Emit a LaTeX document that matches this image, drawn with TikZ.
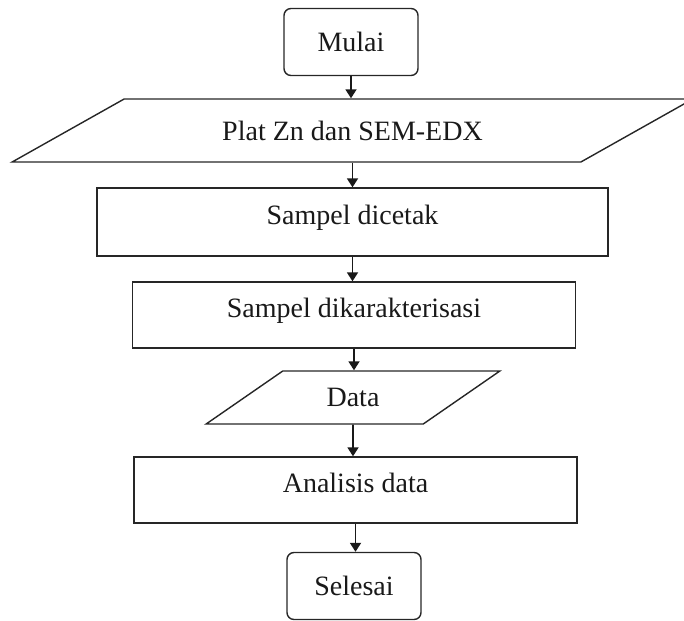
\documentclass[tikz,border=0pt]{standalone}
\usepackage{fontspec}
\setmainfont{Liberation Serif}
\usepackage{tikz}
\usetikzlibrary{arrows.meta}
\usetikzlibrary{shapes.geometric,positioning}

\begin{document}
\begin{tikzpicture}[x=0.5pt,y=-0.5pt,
	base/.style={draw=black!85,line width=0.7pt,text=black!90,font=\fontsize{14pt}{17pt}\selectfont},
	term/.style={base,rectangle,rounded corners=3.5pt,minimum width=67pt,minimum height=33.5pt},
	proc/.style={base,rectangle,minimum width=221.5pt,minimum height=33pt,text height=10pt,text depth=8pt},
	io/.style={base,trapezium,trapezium stretches=true},
	flow/.style={draw=black!90,line width=0.9pt,-{Triangle[length=4.5pt,width=5.5pt]}}]
	\useasboundingbox (0,0) rectangle (684,620);
	\node[term] (mulai) at (351,42) {Mulai};
	\node[io,trapezium left angle=26.2,trapezium right angle=153.8,minimum width=340.5pt,minimum height=31.5pt] (plat) at (352.5,130.5) {Plat Zn dan SEM-EDX};
	\node[proc,minimum width=255.5pt,minimum height=34pt] (cetak) at (352.5,222) {Sampel dicetak};
	\node[proc] (karakter) at (354,315) {Sampel dikarakterisasi};
	\node[io,trapezium left angle=41.5,trapezium right angle=138.5,minimum width=147.5pt,minimum height=26.5pt] (data) at (353,397.5) {Data};
	\node[proc] (analisis) at (355.5,490) {Analisis data};
	\node[term] (selesai) at (354,586) {Selesai};
	\draw[flow] (mulai) -- (mulai |- plat.north);
	\draw[flow] (plat.south -| cetak) -- (cetak);
	\draw[flow] (cetak) -- (cetak |- karakter.north);
	\draw[flow] (karakter) -- (karakter |- data.north);
	\draw[flow] (data) -- (data |- analisis.north);
	\draw[flow] (analisis) -- (analisis |- selesai.north);
\end{tikzpicture}
\end{document}
